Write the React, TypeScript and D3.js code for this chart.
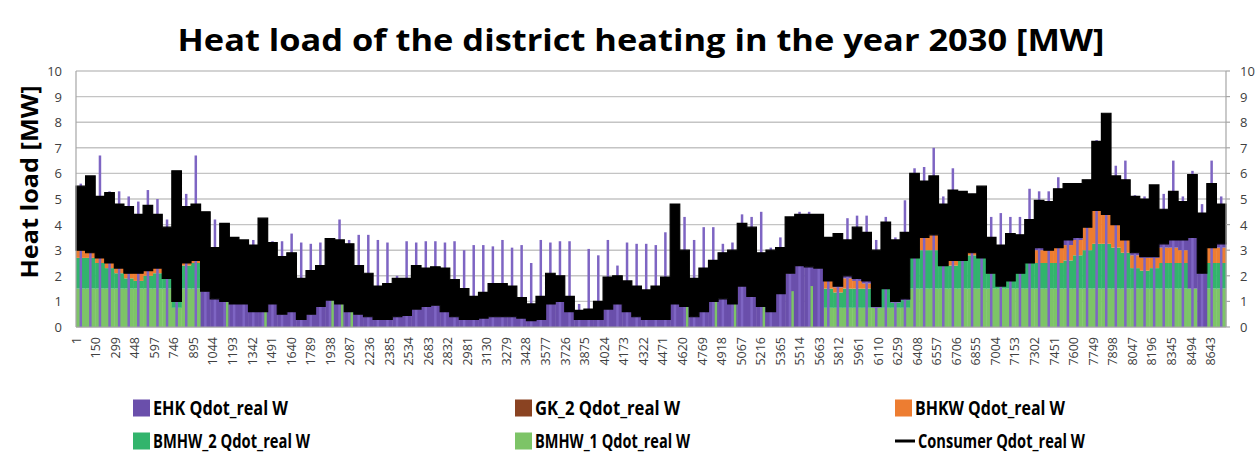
import * as d3 from "d3";

// one value per 73-hour block (120 blocks = 8760 h), MW
const consumerHigh = [
  5.5, 5.9, 5.1, 5.25, 4.8, 4.7, 4.4, 4.75, 4.4, 3.9,
  6.1, 4.7, 4.8, 4.5, 3.1, 4.05, 3.5, 3.4, 3.2, 4.25,
  3.3, 2.75, 2.9, 1.9, 2.2, 2.4, 3.45, 3.4, 3.25, 2.4,
  2.1, 1.6, 1.7, 1.9, 1.9, 2.4, 2.3, 2.35, 2.3, 1.85,
  1.5, 1.2, 1.35, 1.7, 1.7, 1.6, 1.15, 0.9, 1.2, 2.1,
  2.0, 1.2, 0.65, 0.7, 1.0, 1.95, 2.0, 1.8, 1.6, 1.45,
  1.6, 1.95, 4.8, 3.0, 1.9, 2.3, 2.6, 2.9, 3.0, 4.05,
  3.9, 2.9, 3.0, 3.1, 4.3, 4.4, 4.4, 4.4, 3.5, 3.65,
  3.4, 3.9, 3.7, 3.0, 4.1, 3.4, 3.7, 6.0, 5.7, 5.9,
  4.8, 5.35, 5.3, 5.2, 5.5, 3.5, 3.2, 3.65, 3.6, 4.2,
  4.95, 4.9, 5.4, 5.6, 5.6, 5.75, 7.25, 8.35, 5.9, 5.75,
  5.1, 5.0, 5.55, 4.6, 5.3, 4.9, 5.95, 4.45, 5.6, 4.8,
];
const consumerLow = [
  3.0, 2.9, 2.7, 2.5, 2.3, 2.1, 2.1, 2.2, 2.3, 1.9,
  1.0, 2.5, 2.6, 1.4, 1.1, 1.0, 0.9, 0.9, 0.6, 0.6,
  0.9, 0.5, 0.6, 0.3, 0.5, 0.8, 1.05, 0.9, 0.6, 0.5,
  0.4, 0.3, 0.3, 0.4, 0.45, 0.7, 0.8, 0.85, 0.6, 0.4,
  0.3, 0.3, 0.35, 0.4, 0.4, 0.4, 0.35, 0.25, 0.3, 0.9,
  1.0, 0.6, 0.3, 0.3, 0.3, 0.7, 0.9, 0.6, 0.4, 0.3,
  0.3, 0.3, 0.9, 0.8, 0.4, 0.6, 1.0, 1.1, 0.9, 1.6,
  1.2, 0.8, 0.6, 1.3, 2.1, 2.4, 2.35, 2.3, 1.8, 1.6,
  2.0, 1.9, 1.8, 0.8, 1.5, 1.0, 1.1, 2.7, 3.5, 3.6,
  2.4, 2.6, 2.6, 2.9, 2.7, 2.1, 1.6, 1.8, 2.1, 2.5,
  3.1, 3.0, 3.1, 3.4, 3.5, 3.9, 4.55, 4.4, 4.0, 3.4,
  2.9, 2.75, 2.75, 3.25, 3.4, 3.4, 3.5, 2.1, 3.1, 3.25,
];
// highest single hour of EHK in each block
const ehkPeak = [
  5.6, 5.5, 6.7, 5.3, 5.3, 5.1, 4.9, 5.35, 5.0, 4.2,
  5.1, 5.2, 6.7, 3.3, 4.2, 3.6, 3.4, 3.35, 3.4, 3.35,
  3.35, 3.35, 3.65, 3.3, 3.25, 3.3, 3.4, 4.2, 3.4, 3.6,
  3.6, 3.4, 3.3, 2.0, 3.35, 3.3, 3.35, 3.35, 3.3, 3.35,
  3.0, 3.2, 3.2, 3.15, 3.4, 3.1, 3.2, 2.5, 3.4, 3.3,
  3.35, 3.35, 0.9, 3.05, 2.8, 3.4, 2.4, 3.3, 3.25, 3.25,
  3.2, 3.7, 3.6, 4.3, 3.4, 3.9, 3.9, 3.25, 3.3, 4.4,
  4.3, 4.5, 3.1, 3.5, 4.3, 4.5, 4.5, 4.4, 3.4, 3.5,
  4.25, 4.35, 4.35, 3.4, 4.3, 3.5, 4.95, 6.2, 6.25, 7.0,
  5.1, 6.2, 5.2, 5.2, 5.5, 4.3, 4.45, 4.3, 4.3, 5.4,
  5.3, 5.3, 5.85, 5.6, 5.6, 5.75, 7.3, 7.3, 6.3, 6.5,
  5.15, 5.1, 5.5, 5.2, 6.5, 5.1, 6.1, 4.8, 6.5, 5.1,
];
const bmhw1 = [
  1.5, 1.5, 1.5, 1.5, 1.5, 1.5, 1.5, 1.5, 1.5, 1.5,
  0.75, 1.5, 1.5, 0, 0, 0, 0, 0, 0, 0,
  0, 0, 0, 0, 0, 0, 0, 0, 0, 0,
  0, 0, 0, 0, 0, 0, 0, 0, 0, 0,
  0, 0, 0, 0, 0, 0, 0, 0, 0, 0,
  0, 0, 0, 0, 0, 0, 0, 0, 0, 0,
  0, 0, 0, 0, 0, 0, 0, 0, 0, 0,
  0, 0, 0, 0, 0, 0, 0, 0, 0.75, 0.75,
  0.75, 0.75, 0.75, 0.75, 0.75, 0.75, 0.75, 1.5, 1.5, 1.5,
  1.5, 1.5, 1.5, 1.5, 1.5, 1.5, 1.5, 1.5, 1.5, 1.5,
  1.5, 1.5, 1.5, 1.5, 1.5, 1.5, 1.5, 1.5, 1.5, 1.5,
  1.5, 1.5, 1.5, 1.5, 1.5, 1.5, 1.5, 0, 1.5, 1.5,
];
const bmhw2 = [
  1.2, 1.2, 1.0, 0.8, 0.6, 0.4, 0.3, 0.5, 0.6, 0.4,
  0.3, 0.9, 1.0, 0, 0, 0, 0, 0, 0, 0,
  0, 0, 0, 0, 0, 0, 0, 0, 0, 0,
  0, 0, 0, 0, 0, 0, 0, 0, 0, 0,
  0, 0, 0, 0, 0, 0, 0, 0, 0, 0,
  0, 0, 0, 0, 0, 0, 0, 0, 0, 0,
  0, 0, 0, 0, 0, 0, 0, 0, 0, 0,
  0, 0, 0, 0, 0, 0, 0, 0, 0.75, 0.6,
  0.75, 0.75, 0.75, 0, 0.75, 0.2, 0.3, 1.2, 1.5, 1.5,
  0.9, 0.9, 1.3, 1.3, 1.2, 0.6, 0.5, 0.6, 0.7, 1.2,
  1.0, 1.0, 1.0, 1.1, 1.3, 1.5, 1.75, 1.75, 1.6, 1.4,
  0.8, 0.7, 0.8, 1.0, 1.0, 1.0, 0, 0, 1.0, 1.0,
];
const bhkw = [
  0.5, 0.4, 0.4, 0.4, 0.3, 0.3, 0.5, 0.4, 0.4, 0.3,
  0, 0.4, 0.5, 0, 0, 0, 0, 0, 0, 0,
  0, 0, 0, 0, 0, 0, 0, 0, 0, 0,
  0, 0, 0, 0, 0, 0, 0, 0, 0, 0,
  0, 0, 0, 0, 0, 0, 0, 0, 0, 0,
  0, 0, 0, 0, 0, 0, 0, 0, 0, 0,
  0, 0, 0, 0, 0, 0, 0, 0, 0, 0,
  0, 0, 0, 0, 0, 0, 0, 0, 0.3, 0.2,
  0.4, 0.3, 0.2, 0, 0, 0, 0, 0.1, 0.5, 0.6,
  0.2, 0.3, 0.2, 0.3, 0.3, 0.1, 0, 0.1, 0.1, 0.3,
  0.5, 0.5, 0.6, 0.6, 0.6, 0.9, 1.4, 1.3, 0.9, 0.5,
  0.5, 0.5, 0.4, 0.6, 0.6, 0.5, 0, 0, 0.7, 0.6,
];
const gk2 = [
  0, 0, 0, 0, 0, 0, 0, 0, 0, 0, 0, 0, 0, 0, 0, 0, 0, 0, 0, 0,
  0, 0, 0, 0, 0, 0, 0, 0, 0, 0, 0, 0, 0, 0, 0, 0, 0, 0, 0, 0,
  0, 0, 0, 0, 0, 0, 0, 0, 0, 0, 0, 0, 0, 0, 0, 0, 0, 0, 0, 0,
  0, 0, 0, 0, 0, 0, 0, 0, 0, 0, 0, 0, 0, 0, 0, 0, 0, 0, 0, 0,
  0, 0, 0, 0, 0, 0, 0, 0, 0, 0, 0, 0, 0, 0, 0, 0, 0, 0, 0, 0,
  0, 0, 0, 0, 0, 0, 0, 0, 0, 0, 0, 0, 0, 0, 0, 0, 0, 0, 0, 0,
];
const ehk = [
  0.1, 0.2, 0.3, 0.3, 0.3, 0.3, 0.2, 0.2, 0.2, 0.2,
  0.1, 0.2, 0.2, 1.4, 1.1, 1.0, 0.9, 0.9, 0.6, 0.6,
  0.9, 0.5, 0.6, 0.3, 0.5, 0.8, 1.05, 0.9, 0.6, 0.5,
  0.4, 0.3, 0.3, 0.4, 0.45, 0.7, 0.8, 0.85, 0.6, 0.4,
  0.3, 0.3, 0.35, 0.4, 0.4, 0.4, 0.35, 0.25, 0.3, 0.9,
  1.0, 0.6, 0.3, 0.3, 0.3, 0.7, 0.9, 0.6, 0.4, 0.3,
  0.3, 0.3, 0.9, 0.8, 0.4, 0.6, 1.0, 1.1, 0.9, 1.6,
  1.2, 0.8, 0.6, 1.3, 2.1, 2.4, 2.35, 2.3, 0.1, 0.1,
  0.1, 0.1, 0.1, 0.1, 0.1, 0.1, 0.1, 0, 0, 0,
  0, 0, 0, 0, 0, 0.2, 0.1, 0.1, 0.1, 0,
  0.1, 0, 0, 0.2, 0.1, 0, 0, 0, 0, 0,
  0.1, 0.1, 0.1, 0.2, 0.3, 0.4, 2.0, 2.1, 0, 0.2,
];
// single hours of BMHW running in summer blocks
const bmhwPeak = [
  0, 0, 0, 0, 0, 0, 0, 0, 0, 0,
  0, 0, 0, 0, 0, 1.4, 0, 0, 0, 1.4,
  0, 0, 0, 0, 0, 0, 1.5, 1.5, 1.4, 0,
  0, 0, 0, 0, 0, 0, 0, 0, 0, 0,
  0, 0, 0, 0, 0, 0, 0, 0, 0, 0,
  0, 0, 0, 0, 0, 0, 0, 0, 0, 0,
  0, 0, 0, 1.3, 0, 0, 1.5, 0, 1.3, 0,
  0, 1.5, 0, 0, 1.4, 0, 1.6, 0, 0, 0,
  0, 0, 0, 0, 0, 0, 0, 0, 0, 0,
  0, 0, 0, 0, 0, 0, 0, 0, 0, 0,
  0, 0, 0, 0, 0, 0, 0, 0, 0, 0,
  0, 0, 0, 0, 0, 0, 0, 0, 0, 0,
];

const hourTicks = [
  1, 150, 299, 448, 597, 746, 895, 1044, 1193, 1342, 1491, 1640, 1789, 1938, 2087,
  2236, 2385, 2534, 2683, 2832, 2981, 3130, 3279, 3428, 3577, 3726, 3875, 4024,
  4173, 4322, 4471, 4620, 4769, 4918, 5067, 5216, 5365, 5514, 5663, 5812, 5961,
  6110, 6259, 6408, 6557, 6706, 6855, 7004, 7153, 7302, 7451, 7600, 7749, 7898,
  8047, 8196, 8345, 8494, 8643,
];
const mwTicks = [0, 1, 2, 3, 4, 5, 6, 7, 8, 9, 10];

const width = 1259;
const height = 457;
const left = 76;
const right = 1226;
const top = 71;
const bottom = 327;
const blockHours = 73;
const font = "'Open Sans', 'Liberation Sans', sans-serif";

const colors = {
  ehk: "#6a4fab",
  ehkSpike: "#7e65c3",
  gk2: "#8a4322",
  bhkw: "#ed7d31",
  bmhw2: "#32b46c",
  bmhw1: "#7dc467",
};

const legendItems = [
  { label: "EHK Qdot_real W", color: colors.ehk, x: 133, y: 408, w: 135 },
  { label: "GK_2 Qdot_real W", color: colors.gk2, x: 515, y: 408, w: 145 },
  { label: "BHKW Qdot_real W", color: colors.bhkw, x: 895, y: 408, w: 150 },
  { label: "BMHW_2 Qdot_real W", color: colors.bmhw2, x: 133, y: 441, w: 157 },
  { label: "BMHW_1 Qdot_real W", color: colors.bmhw1, x: 515, y: 441, w: 155 },
  { label: "Consumer Qdot_real W", color: null, x: 895, y: 441, w: 167 },
];

export default function App() {
  const x = d3.scaleLinear().domain([0.5, 8760.5]).range([left, right]);
  const y = d3.scaleLinear().domain([0, 10]).range([bottom, top]);

  const rows = consumerHigh.map((_, i) => ({
    i,
    h0: i * blockHours + 0.5,
    h1: (i + 1) * blockHours + 0.5,
    mid: i * blockHours + 37,
    bmhw1: bmhw1[i],
    bmhw2: bmhw2[i],
    bhkw: bhkw[i],
    gk2: gk2[i],
    ehk: ehk[i],
  }));

  const keys = ["bmhw1", "bmhw2", "bhkw", "gk2", "ehk"];
  const layers = d3.stack<any>().keys(keys)(rows);

  // consumer min/max band, one step per block
  const bandPts = [...rows.map((r) => ({ h: r.h0, i: r.i })), { h: 8760.5, i: rows.length - 1 }];
  const band = d3
    .area<any>()
    .x((d) => x(d.h))
    .y0((d) => y(consumerLow[d.i]))
    .y1((d) => y(consumerHigh[d.i]))
    .curve(d3.curveStepAfter);

  return (
    <div style={{ position: "absolute", left: 0, top: 0 }}>
      <svg width={width} height={height} style={{ display: "block", background: "#fff" }}>
        <text
          x={641}
          y={51}
          textAnchor="middle"
          fontFamily={font}
          fontWeight={700}
          fontSize={31}
          textLength={927}
          lengthAdjust="spacingAndGlyphs"
        >
          Heat load of the district heating in the year 2030 [MW]
        </text>

        {mwTicks.map((t) => (
          <line key={"g" + t} x1={left} x2={right} y1={y(t)} y2={y(t)} stroke="#c4c4c4" strokeWidth={1.4} />
        ))}

        {layers.map((layer) => (
          <g key={layer.key} fill={(colors as any)[layer.key]}>
            {layer.map((d: any, j: number) =>
              d[1] - d[0] > 0 ? (
                <rect
                  key={j}
                  x={x(rows[j].h0)}
                  width={x(rows[j].h1) - x(rows[j].h0) + 0.4}
                  y={y(d[1])}
                  height={y(d[0]) - y(d[1])}
                />
              ) : null
            )}
          </g>
        ))}

        {rows.map((r) => (
          <line
            key={"s" + r.i}
            x1={x(r.mid)}
            x2={x(r.mid)}
            y1={y(0)}
            y2={y(ehkPeak[r.i])}
            stroke={colors.ehkSpike}
            strokeWidth={2.5}
          />
        ))}
        {rows.map((r) =>
          bmhwPeak[r.i] > 0 ? (
            <line
              key={"b" + r.i}
              x1={x(r.mid + 20)}
              x2={x(r.mid + 20)}
              y1={y(0)}
              y2={y(bmhwPeak[r.i])}
              stroke={colors.bmhw1}
              strokeWidth={2.5}
            />
          ) : null
        )}

        <path d={band(bandPts) || ""} fill="#000" stroke="#000" strokeWidth={1.2} />

        <line x1={left} x2={left} y1={top} y2={bottom} stroke="#a6a6a6" strokeWidth={1.2} />
        <line x1={right} x2={right} y1={top} y2={bottom} stroke="#a6a6a6" strokeWidth={1.2} />
        <line x1={left} x2={right} y1={bottom} y2={bottom} stroke="#a6a6a6" strokeWidth={1.2} />
        {mwTicks.map((t) => (
          <line key={"rt" + t} x1={right} x2={right + 4} y1={y(t)} y2={y(t)} stroke="#a6a6a6" strokeWidth={1.2} />
        ))}

        {mwTicks.map((t) => (
          <g key={"yl" + t} fontFamily={font} fontSize={13} fill="#404040">
            <text x={62} y={y(t)} textAnchor="end" dominantBaseline="central">
              {t}
            </text>
            <text x={1240} y={y(t)} textAnchor="start" dominantBaseline="central">
              {t}
            </text>
          </g>
        ))}

        {hourTicks.map((t) => (
          <text
            key={"xl" + t}
            transform={`translate(${x(t)},337) rotate(-90)`}
            textAnchor="end"
            dominantBaseline="central"
            fontFamily={font}
            fontSize={12.5}
            fill="#404040"
          >
            {t}
          </text>
        ))}

        <text
          transform="translate(38,182) rotate(-90)"
          textAnchor="middle"
          fontFamily={font}
          fontWeight={700}
          fontSize={23}
          textLength={193}
          lengthAdjust="spacingAndGlyphs"
        >
          Heat load [MW]
        </text>

        {legendItems.map((it) => (
          <g key={it.label}>
            {it.color ? (
              <rect x={it.x} y={it.y - 8.5} width={17} height={17} fill={it.color} />
            ) : (
              <line x1={it.x} x2={it.x + 20} y1={it.y} y2={it.y} stroke="#000" strokeWidth={3} />
            )}
            <text
              x={it.x + (it.color ? 20 : 23)}
              y={it.y}
              dominantBaseline="central"
              fontFamily={font}
              fontWeight={700}
              fontSize={19}
              textLength={it.w}
              lengthAdjust="spacingAndGlyphs"
            >
              {it.label}
            </text>
          </g>
        ))}
      </svg>
    </div>
  );
}
